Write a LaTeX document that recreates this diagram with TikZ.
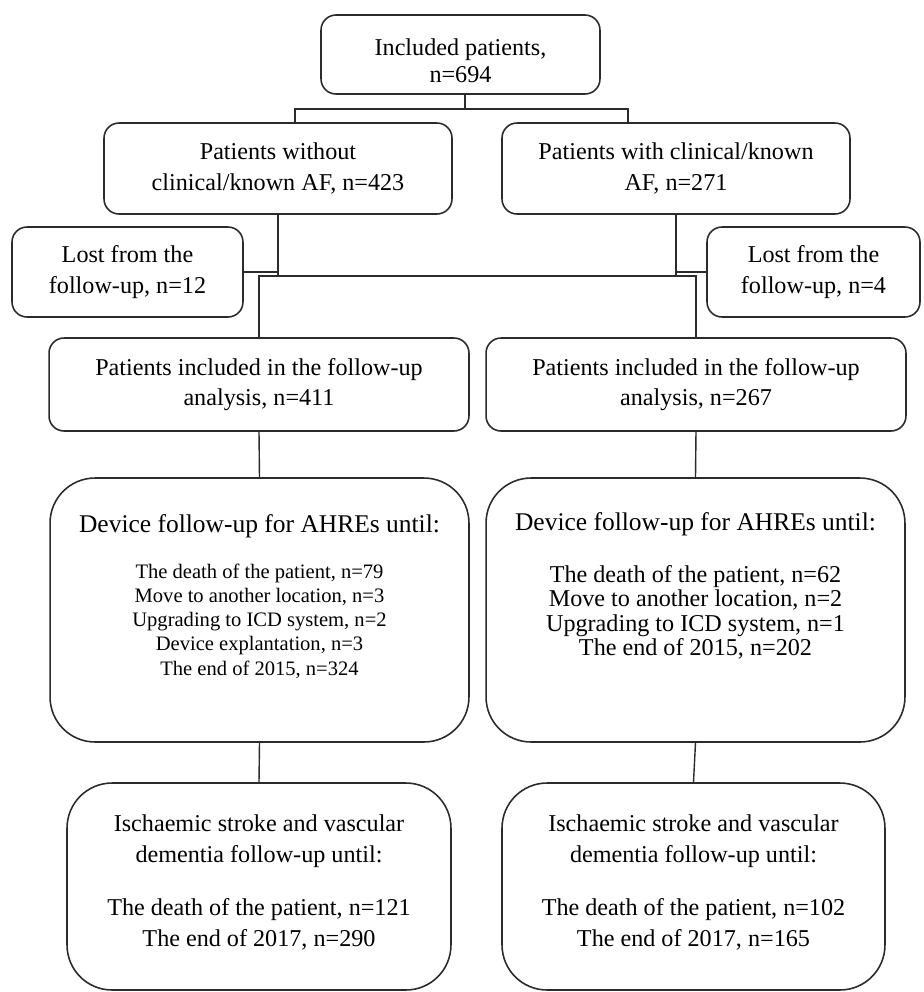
\documentclass[tikz,border=0pt]{standalone}
\usepackage{fontspec}
\setmainfont{Liberation Serif}
\usepackage{tikz}
\usetikzlibrary{calc}
\definecolor{edge}{HTML}{2B2B2B}
\definecolor{ink}{HTML}{000000}
\tikzset{
  box/.style={draw=edge, line width=0.9pt, rounded corners=0.3cm, align=center,
    text=ink, font=\fontsize{13.75}{17.5}\selectfont, inner sep=0pt},
  bigbox/.style={draw=edge, line width=0.9pt, rounded corners=0.9cm},
  lab/.style={align=center, text=ink, font=\fontsize{13.75}{17.5}\selectfont, inner sep=0pt},
  head/.style={lab, font=\fontsize{14.5}{17.5}\selectfont},
  items/.style={lab, font=\fontsize{13.75}{13.8}\selectfont},
  link/.style={draw=edge, line width=0.8pt},
}

\begin{document}
\begin{tikzpicture}[x=0.02cm, y=-0.02cm]
  \useasboundingbox (0,0) rectangle (924,992);

  % boxes
  \node[box, font=\fontsize{13.75}{15.4}\selectfont, minimum width=5.58cm, minimum height=1.58cm] (top) at (460.5,54.5) {\rule{0pt}{16.2pt}Included patients,\\n=694};
  \node[box, minimum width=6.96cm, minimum height=1.82cm] (L2) at (278,168.5) {Patients without\\clinical/known AF, n=423};
  \node[box, minimum width=6.96cm, minimum height=1.82cm] (R2) at (676,168.5) {Patients with clinical/known\\AF, n=271};
  \node[box, minimum width=4.62cm, minimum height=1.8cm] (LL) at (127.5,272) {Lost from the\\follow-up, n=12};
  \node[box, minimum width=4.26cm, minimum height=1.8cm] (LR) at (813.5,272) {Lost from the\\follow-up, n=4};
  \node[box, minimum width=8.4cm, minimum height=1.86cm] (L3) at (259,384.5) {Patients included in the follow-up\\analysis, n=411};
  \node[box, minimum width=8.4cm, minimum height=1.86cm] (R3) at (696,384.5) {Patients included in the follow-up\\analysis, n=267};
  \node[bigbox, minimum width=8.38cm, minimum height=5.28cm] (L4) at (259.5,610) {};
  \node[bigbox, minimum width=8.38cm, minimum height=5.28cm] (R4) at (695.5,610) {};
  \node[bigbox, minimum width=7.68cm, minimum height=4.14cm] (L5) at (259,886.5) {};
  \node[bigbox, minimum width=7.66cm, minimum height=4.14cm] (R5) at (693.5,886.5) {};

  % texts of the large boxes
  \node[head, anchor=north] (L4h) at ($(L4.north)+(0,37)$) {Device follow-up for AHREs until:};
  \node[items, font=\fontsize{11.7}{13.8}\selectfont, anchor=north] (L4t) at ($(L4.north)+(0,86)$) {The death of the patient, n=79\\Move to another location, n=3\\Upgrading to ICD system, n=2\\Device explantation, n=3\\The end of 2015, n=324};
  \node[head, anchor=north] (R4h) at ($(R4.north)+(0,35)$) {Device follow-up for AHREs until:};
  \node[items, anchor=north] (R4t) at ($(R4.north)+(0,88)$) {The death of the patient, n=62\\Move to another location, n=2\\Upgrading to ICD system, n=1\\The end of 2015, n=202};
  \node[lab, anchor=north] (L5t) at ($(L5.north)+(0,32)$) {Ischaemic stroke and vascular\\dementia follow-up until:\\[13pt]The death of the patient, n=121\\The end of 2017, n=290};
  \node[lab, anchor=north] (R5t) at ($(R5.north)+(0,32)$) {Ischaemic stroke and vascular\\dementia follow-up until:\\[13pt]The death of the patient, n=102\\The end of 2017, n=165};

  % connectors
  \coordinate (split) at (465,109);
  \coordinate (mid) at (0,276);
  \draw[link] (top.south -| split) -- (split);
  \draw[link] ($(L2.north)+(17,0)$) |- (split) -| ($(R2.north)+(-48,0)$);
  \draw[link] (L2.south) -- (L2.south |- mid);
  \draw[link] (R2.south) -- (R2.south |- mid);
  \draw[link] (LL.east) -- (LL.east -| L2.south);
  \draw[link] (LR.west) -- (LR.west -| R2.south);
  \draw[link] (L3.north) |- (R3.north |- mid) -- (R3.north);
  \draw[link] (L3.south) -- (L4.north);
  \draw[link] (R3.south) -- (R4.north);
  \draw[link] (L4.south) -- (L5.north);
  \draw[link] (R4.south) -- (R5.north);
\end{tikzpicture}
\end{document}
